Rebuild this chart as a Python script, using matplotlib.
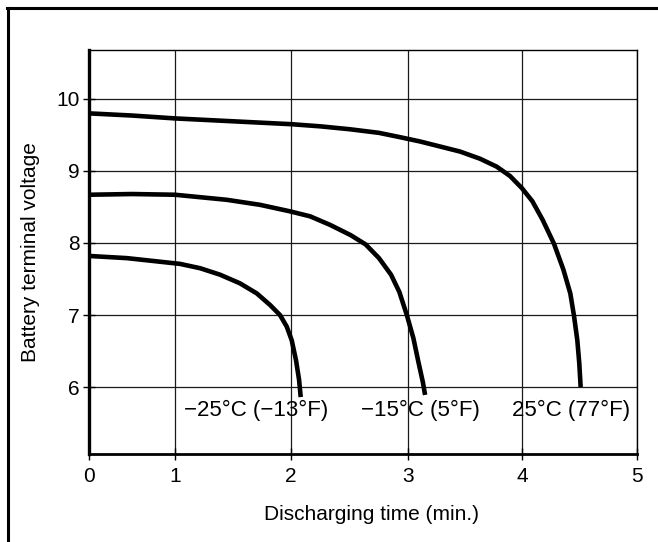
import numpy as np
import matplotlib
matplotlib.use("Agg")
import matplotlib.pyplot as plt
from matplotlib.lines import Line2D

plt.rcParams["font.family"] = ["Liberation Sans", "DejaVu Sans"]

# Discharge curves: time (min) vs. battery terminal voltage (V)
t_25c = [0, 0.5, 1, 1.5, 2, 2.25, 2.5, 2.75, 2.93, 3.105, 3.281, 3.456, 3.632, 3.778,
         3.895, 4.0, 4.09, 4.18, 4.278, 4.36, 4.42, 4.452, 4.481, 4.498, 4.51]
v_25c = [9.80, 9.77, 9.73, 9.69, 9.65, 9.62, 9.58, 9.53, 9.47, 9.41, 9.34, 9.27, 9.17, 9.06,
         8.93, 8.76, 8.58, 8.32, 7.99, 7.63, 7.30, 6.99, 6.65, 6.33, 6.00]

t_m15c = [0, 0.5, 1, 1.446, 1.733, 1.99, 2.164, 2.336, 2.509, 2.638, 2.752, 2.855,
          2.926, 2.99, 3.047, 3.091, 3.13, 3.15]
v_m15c = [8.67, 8.68, 8.67, 8.60, 8.53, 8.44, 8.37, 8.25, 8.11, 7.98, 7.79, 7.56,
          7.32, 7.00, 6.68, 6.35, 6.07, 5.89]

t_m25c = [0, 0.44, 1.043, 1.216, 1.388, 1.56, 1.705, 1.819, 1.905, 1.963, 2.006,
          2.043, 2.069, 2.083]
v_m25c = [7.82, 7.79, 7.71, 7.65, 7.56, 7.44, 7.30, 7.14, 7.00, 6.84, 6.65,
          6.37, 6.10, 5.86]

curve_labels = ["\u221225\u00b0C (\u221213\u00b0F)", "\u221215\u00b0C (5\u00b0F)", "25\u00b0C (77\u00b0F)"]
label_x = [1.70, 3.11, 4.43]
label_y = 5.68

x_ticks = [0, 1, 2, 3, 4, 5]
y_ticks = [6, 7, 8, 9, 10]

# The printed time axis has a shorter first division than the rest
_axis_nodes = np.array([0.0, 86.0, 202.0, 319.0, 433.0, 548.0])
_time_nodes = np.array([0.0, 1.0, 2.0, 3.0, 4.0, 5.0])


def _interp_ext(v, xp, fp):
    v = np.asarray(v, dtype=float)
    out = np.interp(v, xp, fp)
    lo = v < xp[0]
    hi = v > xp[-1]
    s0 = (fp[1] - fp[0]) / (xp[1] - xp[0])
    s1 = (fp[-1] - fp[-2]) / (xp[-1] - xp[-2])
    out = np.where(lo, fp[0] + (v - xp[0]) * s0, out)
    out = np.where(hi, fp[-1] + (v - xp[-1]) * s1, out)
    return out


def fwd(v):
    return _interp_ext(v, _time_nodes, _axis_nodes)


def inv(v):
    return _interp_ext(v, _axis_nodes, _time_nodes)


fig = plt.figure(figsize=(6.58, 5.42), dpi=100)
ax = fig.add_axes([89 / 658, 1 - 454 / 542, 548 / 658, 404 / 542])
ax.set_xscale("function", functions=(fwd, inv))

for t, v in [(t_25c, v_25c), (t_m15c, v_m15c), (t_m25c, v_m25c)]:
    ax.plot(t, v, color="black", lw=3.3, solid_capstyle="butt",
            solid_joinstyle="round", zorder=3)

for txt, xl in zip(curve_labels, label_x):
    ax.text(xl, label_y, txt, ha="center", va="center", fontsize=16,
            color="black", zorder=4)

ax.set_xlim(0, 5)
ax.set_ylim(5.07, 10.68)
ax.set_xticks(x_ticks)
ax.set_yticks(y_ticks)
ax.tick_params(axis="both", direction="inout", length=8, width=1.0,
               labelsize=15, color="black")
ax.tick_params(axis="x", pad=5)
ax.tick_params(axis="y", pad=3)

ax.grid(True, color="#1a1a1a", lw=0.9)
ax.set_axisbelow(True)

ax.spines["left"].set_linewidth(2.4)
ax.spines["bottom"].set_linewidth(2.0)
ax.spines["top"].set_linewidth(1.0)
ax.spines["right"].set_linewidth(1.0)

ax.set_xlabel("Discharging time (min.)", fontsize=15)
ax.set_ylabel("Battery terminal voltage", fontsize=15)
ax.xaxis.set_label_coords(0.516, -0.127)
ax.yaxis.set_label_coords(-0.09, 0.5)

# Page frame along the left and top edges
fig.add_artist(Line2D([7.5 / 658, 7.5 / 658], [0, 1 - 7.5 / 542],
                      transform=fig.transFigure, color="black", lw=2.2))
fig.add_artist(Line2D([6.5 / 658, 1], [1 - 7.5 / 542, 1 - 7.5 / 542],
                      transform=fig.transFigure, color="black", lw=2.2))

fig.savefig("out.png", dpi=100)
